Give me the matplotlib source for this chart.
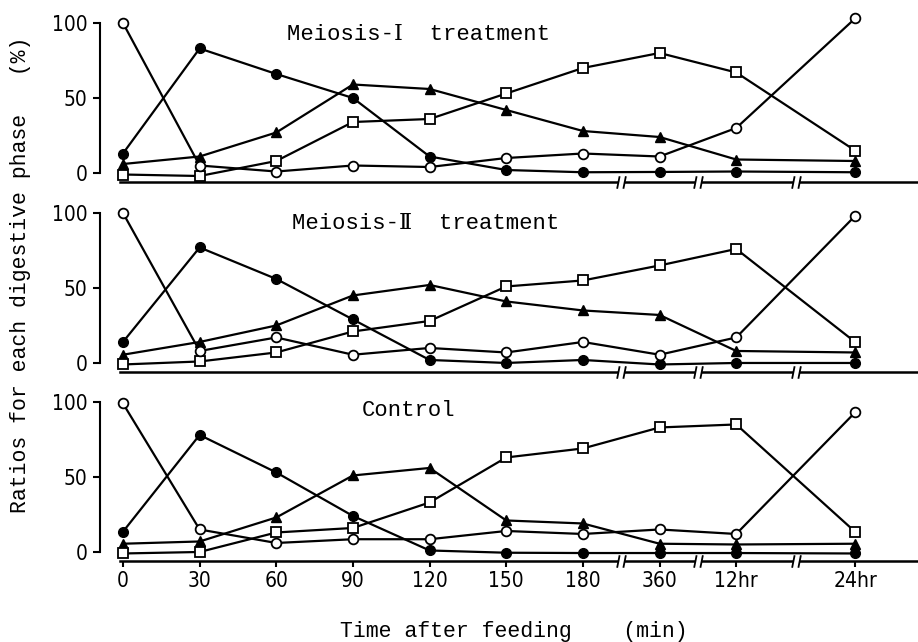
import matplotlib.pyplot as plt
from matplotlib.path import Path

# sampling times (categorical axis)
time_labels = ["0", "30", "60", "90", "120", "150", "180", "360", "12hr", "24hr"]

# Meiosis-I treatment
m1_open_circle = [100, 5, 1, 5, 4, 10, 13, 11, 30, 103]
m1_filled_circle = [13, 83, 66, 50, 11, 2, 0.5, 0.7, 1, 0.5]
m1_triangle = [6, 11, 27, 59, 56, 42, 28, 24, 9, 8]
m1_square = [-1, -2, 8, 34, 36, 53, 70, 80, 67, 15]

# Meiosis-II treatment
m2_open_circle = [100, 8, 17, 5.5, 10, 7, 14, 5.5, 17, 98]
m2_filled_circle = [14, 77, 56, 29, 2, 0, 2, -1, 0, 0]
m2_triangle = [5.5, 14, 25, 45, 52, 41, 35, 32, 8, 7]
m2_square = [-1, 1, 7, 21, 28, 51, 55, 65, 76, 14]

# Control
c_open_circle = [99, 15, 6, 8.5, 8.5, 14, 12, 15, 12, 93]
c_filled_circle = [13.5, 78, 53, 24, 1, -0.5, -0.7, -0.7, -0.7, -1]
c_triangle = [5.5, 7, 23, 51, 56, 21, 19, 5.5, 5, 5.5]
c_square = [-1, 0, 13, 16, 33, 63, 69, 83, 85, 13.5]

panels = [
    ("Meiosis-\u2160  treatment", m1_open_circle, m1_filled_circle, m1_triangle, m1_square, 2.14, 92),
    ("Meiosis-\u2161  treatment", m2_open_circle, m2_filled_circle, m2_triangle, m2_square, 2.2, 93),
    ("Control", c_open_circle, c_filled_circle, c_triangle, c_square, 3.12, 94.5),
]

# x positions: evenly spaced, wider gap before 24hr (axis break)
x_pos = [0, 1, 2, 3, 4, 5, 6, 7, 8, 9.55]
breaks = [(x_pos[6] + x_pos[7]) / 2, (x_pos[7] + x_pos[8]) / 2, (x_pos[8] + x_pos[9]) / 2]

mono = ["Liberation Mono", "DejaVu Serif", "DejaVu Sans"]

fig = plt.figure(figsize=(9.18, 6.42), dpi=100)
bottoms = [0.7165, 0.4206, 0.1262]

# marker for the axis break: two short slanted strokes
break_mark = Path([(-0.7, -1), (-0.3, 1), (0.3, -1), (0.7, 1)],
                  [Path.MOVETO, Path.LINETO, Path.MOVETO, Path.LINETO])

for i, (title, oc, fc, tr, sq, tx, ty) in enumerate(panels):
    ax = fig.add_axes([0.1089, bottoms[i], 0.891, 0.2664])
    lw = 1.6
    ax.plot(x_pos, fc, color="black", lw=lw, marker="o", ms=7, mfc="black", mec="black", zorder=3)
    ax.plot(x_pos, tr, color="black", lw=lw, marker="^", ms=7, mfc="black", mec="black", zorder=3)
    ax.plot(x_pos, sq, color="black", lw=lw, marker="s", ms=6.5, mfc="white", mec="black", mew=1.3, zorder=4)
    ax.plot(x_pos, oc, color="black", lw=lw, marker="o", ms=7, mfc="white", mec="black", mew=1.3, zorder=5)

    ax.set_xlim(-0.3, 10.37)
    ax.set_ylim(-6, 108)

    # spines
    for s in ["top", "right"]:
        ax.spines[s].set_visible(False)
    ax.spines["left"].set_bounds(0, 100)
    ax.spines["bottom"].set_bounds(-0.04, 10.37)
    ax.spines["left"].set_linewidth(1.5)
    ax.spines["bottom"].set_linewidth(1.8)

    ax.set_yticks([0, 50, 100])
    ax.tick_params(axis="y", direction="out", length=5, width=1.5, pad=4)
    for lab in ax.get_yticklabels():
        lab.set_family("DejaVu Sans")
        lab.set_fontstretch("condensed")
        lab.set_fontsize(15)

    if i == 2:
        ax.set_xticks(x_pos, time_labels)
        ax.tick_params(axis="x", direction="out", length=4, width=1.5, pad=3)
        for lab in ax.get_xticklabels():
            lab.set_family("DejaVu Sans")
            lab.set_fontstretch("condensed")
            lab.set_fontsize(15)
    else:
        ax.set_xticks([])

    # axis breaks
    for xb in breaks:
        ax.plot([xb], [-6], marker="s", ms=5, mfc="white", mec="white", mew=0, clip_on=False, zorder=6)
        ax.plot([xb], [-6], marker=break_mark, ms=9, mec="black", mew=1.3, clip_on=False, zorder=7)

    ax.text(tx, ty, title, family=mono, fontsize=16, va="center", ha="left")

fig.text(0.022, 0.572, "Ratios for each digestive phase   (%)", family=mono, fontsize=15.5,
         rotation=90, va="center", ha="center")
fig.text(0.56, 0.016, "Time after feeding    (min)", family=mono, fontsize=15.5,
         va="center", ha="center")

fig.savefig("out.png", dpi=100)
